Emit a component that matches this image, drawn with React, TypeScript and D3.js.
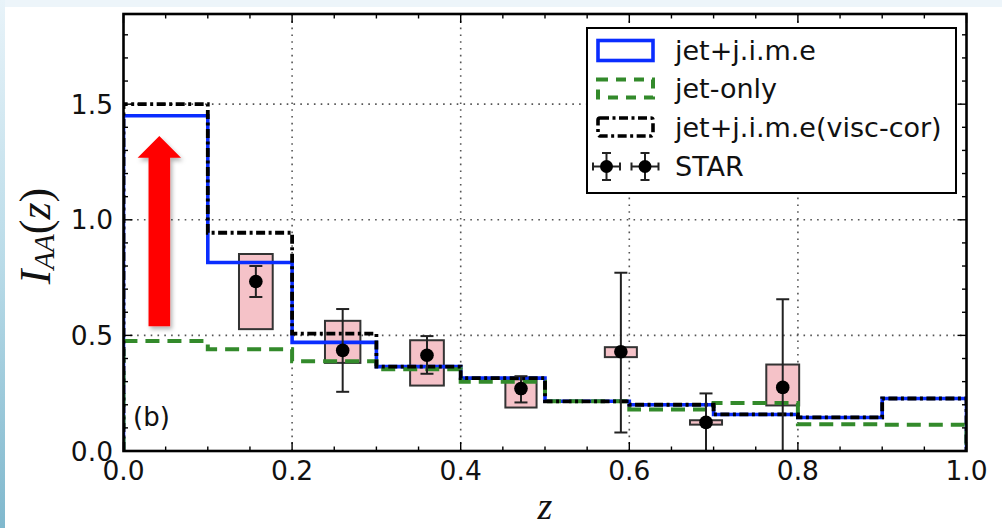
import React from "react";
import * as d3 from "d3";

// Histogram bins in z and the three model curves (one value per bin)
const binEdges = [0, 0.1, 0.2, 0.3, 0.4, 0.5, 0.6, 0.7, 0.8, 0.9, 1.0];
const jetJime = [1.45, 0.815, 0.47, 0.365, 0.315, 0.215, 0.2, 0.158, 0.145, 0.227];
const jetOnly = [0.476, 0.44, 0.388, 0.354, 0.3, 0.215, 0.18, 0.208, 0.116, 0.114];
const jetJimeVisc = [1.5, 0.944, 0.508, 0.365, 0.315, 0.215, 0.2, 0.158, 0.145, 0.227];

// STAR measurements: central value, statistical range, systematic box
const starZ = [0.157, 0.26, 0.36, 0.4715, 0.59, 0.691, 0.782];
const starVal = [0.733, 0.435, 0.414, 0.27, 0.429, 0.124, 0.275];
const starStatLo = [0.666, 0.256, 0.334, 0.21, 0.08, -0.05, -0.05];
const starStatHi = [0.8, 0.614, 0.497, 0.3235, 0.771, 0.249, 0.656];
const starSysLo = [0.527, 0.381, 0.283, 0.188, 0.406, 0.114, 0.197];
const starSysHi = [0.852, 0.563, 0.479, 0.31, 0.449, 0.133, 0.374];
const starSysHalfWidth = [0.02, 0.021, 0.02, 0.0185, 0.019, 0.019, 0.0195];

// Axis ticks
const xTicks = [0, 0.2, 0.4, 0.6, 0.8, 1.0];
const xTickLabels = ["0.0", "0.2", "0.4", "0.6", "0.8", "1.0"];
const yTicks = [0, 0.5, 1.0, 1.5];
const yTickLabels = ["0.0", "0.5", "1.0", "1.5"];
const xMinor = d3.range(0, 1.0001, 0.05);
const yMinor = d3.range(0, 1.85, 0.1);

const legendLabels = ["jet+j.i.m.e", "jet-only", "jet+j.i.m.e(visc-cor)", "STAR"];

// Upward arrow annotation (z position, tail value, tip value)
const arrowZ = 0.0425;
const arrowFrom = 0.54;
const arrowTo = 1.362;

const W = 1002;
const H = 528;
const plot = { left: 123.5, right: 966.5, top: 14, bottom: 451 };

const BLUE = "#0a2dff";
const GREEN = "#338a2b";
const TEXT = "#111";
const SANS = "'DejaVu Sans', sans-serif";
const SERIF = "'Liberation Serif', 'DejaVu Serif', serif";

export default function App() {
  const x = d3.scaleLinear().domain([0, 1]).range([plot.left, plot.right]);
  const y = d3.scaleLinear().domain([0, 1.89]).range([plot.bottom, plot.top]);

  const stepPath = (vals: number[]) => {
    const pts: [number, number][] = [[0, 0]];
    vals.forEach((v, i) => pts.push([binEdges[i], v]));
    pts.push([binEdges[binEdges.length - 1], vals[vals.length - 1]]);
    pts.push([binEdges[binEdges.length - 1], 0]);
    return d3
      .line<[number, number]>()
      .x((d) => x(d[0]))
      .y((d) => y(d[1]))
      .curve(d3.curveStepAfter)(pts) as string;
  };

  // arrow geometry
  const ax = x(arrowZ);
  const tailY = y(arrowFrom);
  const tipY = y(arrowTo);
  const shaftHalf = 10.8;
  const headHalf = 21.7;
  const headLen = 21.7;
  const arrowPts = [
    [ax, tipY],
    [ax + headHalf, tipY + headLen],
    [ax + shaftHalf, tipY + headLen],
    [ax + shaftHalf, tailY],
    [ax - shaftHalf, tailY],
    [ax - shaftHalf, tipY + headLen],
    [ax - headHalf, tipY + headLen],
  ]
    .map((p) => p.join(","))
    .join(" ");

  const legend = { x0: 587, y0: 28, x1: 956, y1: 193 };
  const rowY = [50.5, 88.5, 127, 166.5];
  const patchX0 = 598;
  const patchX1 = 653;
  const textX = 675;

  const majorLen = 9;
  const minorLen = 4.5;

  return (
    <svg
      width={W}
      height={H}
      style={{ position: "absolute", left: 0, top: 0, display: "block" }}
    >
      <defs>
        <linearGradient id="edge" x1="0" y1="0" x2="0" y2="1">
          <stop offset="0" stopColor="#e8f3f9" />
          <stop offset="0.5" stopColor="#b9dbe8" />
          <stop offset="1" stopColor="#80b8cd" />
        </linearGradient>
        <filter id="shadow" x="-30%" y="-10%" width="160%" height="130%">
          <feDropShadow dx="2" dy="3" stdDeviation="2" floodColor="#000" floodOpacity="0.3" />
        </filter>
        <clipPath id="plotClip">
          <rect
            x={plot.left}
            y={plot.top}
            width={plot.right - plot.left}
            height={plot.bottom - plot.top}
          />
        </clipPath>
      </defs>

      {/* page background */}
      <rect x={0} y={0} width={W} height={H} fill="#edf5fa" />
      <rect x={5} y={7} width={W - 5} height={H - 7} fill="#fff" />
      <rect x={0} y={0} width={5} height={H} fill="url(#edge)" />

      {/* grid */}
      <g stroke="#555" strokeWidth={1.6} strokeDasharray="1.6,5.2">
        {xTicks.slice(1, -1).map((t) => (
          <line key={"gx" + t} x1={x(t)} x2={x(t)} y1={plot.top} y2={plot.bottom} />
        ))}
        {yTicks.slice(1).map((t) => (
          <line key={"gy" + t} x1={plot.left} x2={plot.right} y1={y(t)} y2={y(t)} />
        ))}
      </g>

      <g clipPath="url(#plotClip)">
        {/* systematic boxes */}
        {starZ.map((z, i) => (
          <rect
            key={"box" + i}
            x={x(z - starSysHalfWidth[i])}
            width={x(z + starSysHalfWidth[i]) - x(z - starSysHalfWidth[i])}
            y={y(starSysHi[i])}
            height={y(starSysLo[i]) - y(starSysHi[i])}
            fill="#f5c2c8"
            stroke="#333"
            strokeWidth={2}
          />
        ))}

        {/* model curves */}
        <path d={stepPath(jetJime)} fill="none" stroke={BLUE} strokeWidth={3.6} />
        <path
          d={stepPath(jetOnly)}
          fill="none"
          stroke={GREEN}
          strokeWidth={4}
          strokeDasharray="14,8"
        />
        <path
          d={stepPath(jetJimeVisc)}
          fill="none"
          stroke="#000"
          strokeWidth={3.8}
          strokeDasharray="9,3.5,3,3.5"
        />

        {/* STAR points */}
        {starZ.map((z, i) => {
          const cx = x(z);
          return (
            <g key={"pt" + i} stroke="#222" strokeWidth={2}>
              <line x1={cx} x2={cx} y1={y(starStatLo[i])} y2={y(starStatHi[i])} />
              <line x1={cx - 6.5} x2={cx + 6.5} y1={y(starStatLo[i])} y2={y(starStatLo[i])} />
              <line x1={cx - 6.5} x2={cx + 6.5} y1={y(starStatHi[i])} y2={y(starStatHi[i])} />
              <circle cx={cx} cy={y(starVal[i])} r={6.8} fill="#000" stroke="none" />
            </g>
          );
        })}
      </g>

      {/* red arrow */}
      <polygon points={arrowPts} fill="#ff0000" filter="url(#shadow)" />

      {/* ticks on all four sides, pointing in */}
      <g stroke="#000" strokeWidth={1.4}>
        {xMinor.map((t, i) => {
          const major = i % 4 === 0;
          const len = major ? majorLen : minorLen;
          return (
            <g key={"xt" + i}>
              <line x1={x(t)} x2={x(t)} y1={plot.bottom} y2={plot.bottom - len} />
              <line x1={x(t)} x2={x(t)} y1={plot.top} y2={plot.top + len} />
            </g>
          );
        })}
        {yMinor.map((t, i) => {
          const major = i % 5 === 0;
          const len = major ? majorLen : minorLen;
          return (
            <g key={"yt" + i}>
              <line x1={plot.left} x2={plot.left + len} y1={y(t)} y2={y(t)} />
              <line x1={plot.right} x2={plot.right - len} y1={y(t)} y2={y(t)} />
            </g>
          );
        })}
      </g>

      {/* axes frame */}
      <rect
        x={plot.left}
        y={plot.top}
        width={plot.right - plot.left}
        height={plot.bottom - plot.top}
        fill="none"
        stroke="#000"
        strokeWidth={2.6}
      />

      {/* tick labels */}
      <g fontFamily={SANS} fontSize={26.5} fill={TEXT}>
        {xTicks.map((t, i) => (
          <text key={"xl" + i} x={x(t)} y={480} textAnchor="middle">
            {xTickLabels[i]}
          </text>
        ))}
        {yTicks.map((t, i) => (
          <text key={"yl" + i} x={113} y={y(t) + 9.5} textAnchor="end">
            {yTickLabels[i]}
          </text>
        ))}
      </g>

      {/* panel tag */}
      <text x={133} y={426} fontFamily={SANS} fontSize={26} fill={TEXT}>
        (b)
      </text>

      {/* axis titles */}
      <text
        x={(plot.left + plot.right) / 2}
        y={519}
        textAnchor="middle"
        fontFamily={SERIF}
        fontStyle="italic"
        fontSize={38}
        fill={TEXT}
      >
        z
      </text>
      <text
        transform="translate(50,236) rotate(-90)"
        textAnchor="middle"
        fontFamily={SERIF}
        fontSize={44}
        fill={TEXT}
      >
        <tspan fontStyle="italic">I</tspan>
        <tspan fontStyle="italic" fontSize={29} dy={4}>
          AA
        </tspan>
        <tspan dy={-4}>(</tspan>
        <tspan fontStyle="italic">z</tspan>
        <tspan>)</tspan>
      </text>

      {/* legend */}
      <rect
        x={legend.x0}
        y={legend.y0}
        width={legend.x1 - legend.x0}
        height={legend.y1 - legend.y0}
        fill="#fff"
        stroke="#000"
        strokeWidth={2}
      />
      <rect
        x={patchX0}
        y={rowY[0] - 10}
        width={patchX1 - patchX0}
        height={20}
        fill="none"
        stroke={BLUE}
        strokeWidth={3.6}
      />
      <rect
        x={patchX0}
        y={rowY[1] - 9}
        width={patchX1 - patchX0}
        height={18}
        fill="none"
        stroke={GREEN}
        strokeWidth={4}
        strokeDasharray="10,8"
      />
      <rect
        x={patchX0}
        y={rowY[2] - 9}
        width={patchX1 - patchX0}
        height={18}
        fill="none"
        stroke="#000"
        strokeWidth={3.6}
        strokeDasharray="9,3.5,3,3.5"
        rx={2}
      />
      {[606.5, 645].map((cx, k) => (
        <g key={"lg" + k} stroke="#222" strokeWidth={2}>
          <line x1={cx - 13.5} x2={cx + 13.5} y1={rowY[3]} y2={rowY[3]} />
          <line x1={cx - 13.5} x2={cx - 13.5} y1={rowY[3] - 4} y2={rowY[3] + 4} />
          <line x1={cx + 13.5} x2={cx + 13.5} y1={rowY[3] - 4} y2={rowY[3] + 4} />
          <line x1={cx} x2={cx} y1={rowY[3] - 13.5} y2={rowY[3] + 13.5} />
          <line x1={cx - 4.5} x2={cx + 4.5} y1={rowY[3] - 13.5} y2={rowY[3] - 13.5} />
          <line x1={cx - 4.5} x2={cx + 4.5} y1={rowY[3] + 13.5} y2={rowY[3] + 13.5} />
          <circle cx={cx} cy={rowY[3]} r={6.5} fill="#000" stroke="none" />
        </g>
      ))}
      <g fontFamily={SANS} fontSize={27} fill={TEXT}>
        {legendLabels.map((s, i) => (
          <text key={"lt" + i} x={textX} y={rowY[i] + 9.5}>
            {s}
          </text>
        ))}
      </g>
    </svg>
  );
}
